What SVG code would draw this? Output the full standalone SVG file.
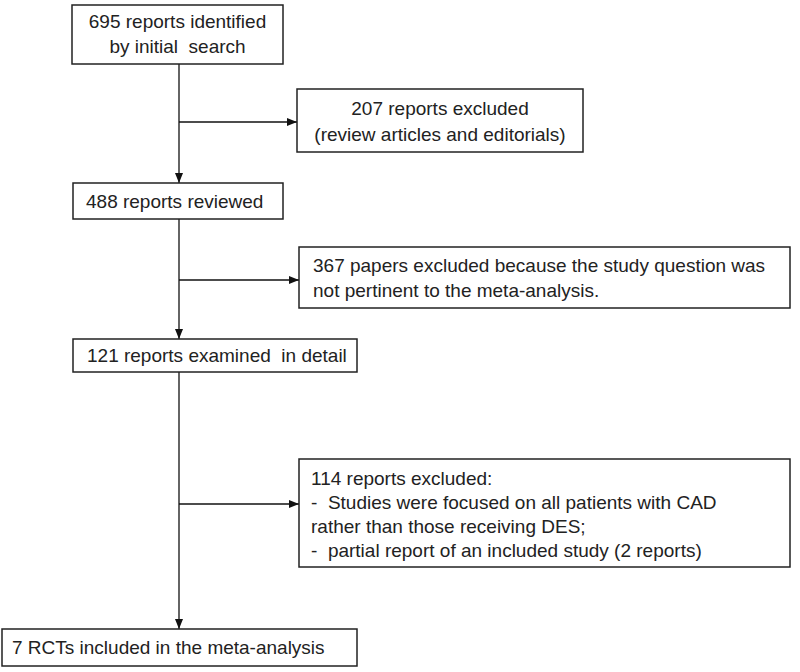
<svg xmlns="http://www.w3.org/2000/svg" width="800" height="672" viewBox="0 0 800 672">
<defs>
<marker id="ah" viewBox="0 0 10 10" refX="10" refY="5" markerWidth="10" markerHeight="10" markerUnits="userSpaceOnUse" orient="auto">
<path d="M0,1 L10,5 L0,9 Z" fill="#111"/>
</marker>
<style>
.box{fill:#fff;stroke:#222;stroke-width:1.5}
.t{font-family:"Liberation Sans",Arial,sans-serif;font-size:19px;fill:#222}
.c{text-anchor:middle}
.ln{stroke:#111;stroke-width:1.3;fill:none}
</style>
</defs>
<rect width="800" height="672" fill="#fff"/>
<g id="connectors">
<line class="ln" x1="179" y1="64" x2="179" y2="183" marker-end="url(#ah)"/>
<line class="ln" x1="179" y1="122" x2="297" y2="122" marker-end="url(#ah)"/>
<line class="ln" x1="179" y1="219" x2="179" y2="339" marker-end="url(#ah)"/>
<line class="ln" x1="179" y1="280" x2="299" y2="280" marker-end="url(#ah)"/>
<line class="ln" x1="179" y1="372" x2="179" y2="629" marker-end="url(#ah)"/>
<line class="ln" x1="179" y1="504" x2="299" y2="504" marker-end="url(#ah)"/>
</g>
<g id="n1">
<rect class="box" x="72" y="5" width="211" height="59"/>
<text class="t c" x="177.5" y="28">695 reports identified</text>
<text class="t c" x="177.5" y="53" xml:space="preserve">by initial  search</text>
</g>
<g id="n2">
<rect class="box" x="297" y="89" width="286" height="63"/>
<text class="t c" x="440" y="115">207 reports excluded</text>
<text class="t c" x="440" y="141">(review articles and editorials)</text>
</g>
<g id="n3">
<rect class="box" x="73" y="183" width="210" height="36"/>
<text class="t" x="86" y="208">488 reports reviewed</text>
</g>
<g id="n4">
<rect class="box" x="299" y="247" width="491" height="61"/>
<text class="t" x="313" y="272">367 papers excluded because the study question was</text>
<text class="t" x="313" y="297">not pertinent to the meta-analysis.</text>
</g>
<g id="n5">
<rect class="box" x="73" y="339" width="284" height="33"/>
<text class="t" x="87" y="362" xml:space="preserve">121 reports examined  in detail</text>
</g>
<g id="n6">
<rect class="box" x="299" y="459" width="491" height="108"/>
<text class="t" x="311" y="485">114 reports excluded:</text>
<text class="t" x="311" y="509" xml:space="preserve">-  Studies were focused on all patients with CAD</text>
<text class="t" x="311" y="533">rather than those receiving DES;</text>
<text class="t" x="311" y="557" xml:space="preserve">-  partial report of an included study (2 reports)</text>
</g>
<g id="n7">
<rect class="box" x="2" y="629" width="355" height="37"/>
<text class="t" x="12" y="654">7 RCTs included in the meta-analysis</text>
</g>
</svg>
